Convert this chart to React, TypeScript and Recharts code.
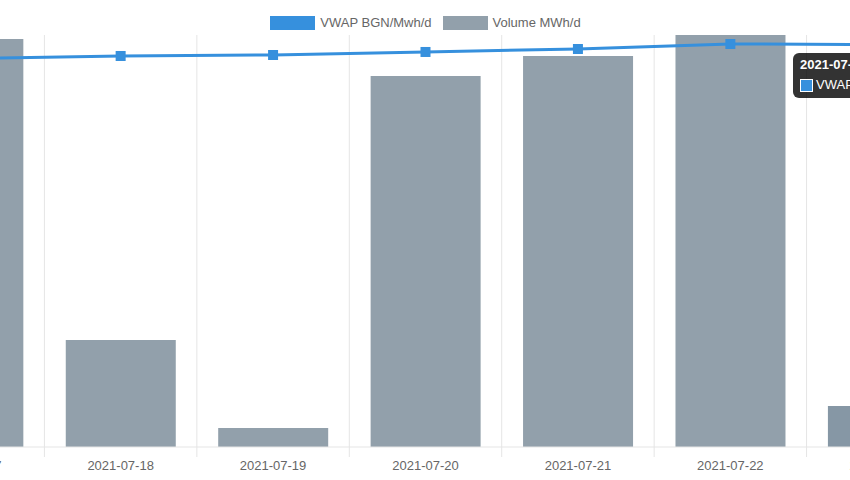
import React from 'react';
import {
  ComposedChart,
  Bar,
  Line,
  XAxis,
  YAxis,
  CartesianGrid,
  Tooltip,
  Legend,
  Cell,
} from 'recharts';

// ---- data ----
const DATES = ['2021-07-17', '2021-07-18', '2021-07-19', '2021-07-20', '2021-07-21', '2021-07-22', '2021-07-23'];
const VWAP = [70.72, 71.18, 71.36, 71.91, 72.45, 73.36, 73.27];
const VOLUME = [29700, 7790, 1383, 27015, 28471, 30000, 2985];
const VWAP_DOMAIN: [number, number] = [0, 75];
const VOLUME_DOMAIN: [number, number] = [0, 30000];
const ACTIVE_INDEX = 6;

const VWAP_NAME = 'VWAP BGN/Mwh/d';
const VOLUME_NAME = 'Volume MWh/d';

// ---- style ----
const FONT = '"Liberation Sans", Arial, Helvetica, sans-serif';
const BLUE = '#3690DD';
const GREY = '#92A0AB';
const GREY_ACTIVE = '#8697A5';
const GRID = '#e5e5e5';
const TEXT = '#666666';

const SERIES = [
  { name: VWAP_NAME, color: BLUE },
  { name: VOLUME_NAME, color: GREY },
];

const data = DATES.map((date, i) => ({ date, vwap: VWAP[i], volume: VOLUME[i] }));

const CHART_W = 1067;
const CHART_H = 480;
const CHART_LEFT = -108;
const CAT_W = CHART_W / DATES.length;

const XTick = (props: any) => {
  const { x, y, payload } = props;
  const bx = x - CAT_W / 2;
  return (
    <g>
      <line x1={bx} x2={bx} y1={y - 10} y2={y} stroke={GRID} strokeWidth={1} />
      <text x={x} y={y + 13} textAnchor="middle" fill={TEXT} fontSize={13} fontFamily={FONT}>
        {payload.value}
      </text>
    </g>
  );
};

const SquareDot = (props: any) => {
  const { cx, cy, index } = props;
  if (cx == null || cy == null) return <g key={`d${index}`} />;
  return <rect key={`d${index}`} x={cx - 5} y={cy - 5} width={10} height={10} fill={BLUE} />;
};

const LegendBox = () => (
  <div
    style={{
      display: 'flex',
      justifyContent: 'center',
      gap: 11,
      paddingTop: 5,
      height: 30,
      boxSizing: 'border-box',
      fontFamily: FONT,
    }}
  >
    {SERIES.map((s) => (
      <div key={s.name} style={{ display: 'flex', alignItems: 'center' }}>
        <span style={{ display: 'inline-block', width: 45, height: 14, background: s.color, marginRight: 5 }} />
        <span style={{ fontSize: 13, color: TEXT, lineHeight: '14px', whiteSpace: 'nowrap' }}>{s.name}</span>
      </div>
    ))}
  </div>
);

const TooltipBox = ({ active, payload, label }: any) => {
  if (!active || !payload || !payload.length) return null;
  const item = payload.find((p: any) => p.dataKey === 'vwap') || payload[0];
  return (
    <div
      style={{
        background: 'rgba(0,0,0,0.8)',
        borderRadius: 6,
        padding: '5px 8px 6px 7px',
        color: '#fff',
        fontFamily: FONT,
        fontSize: 13,
        whiteSpace: 'nowrap',
      }}
    >
      <div style={{ fontWeight: 'bold', lineHeight: '14px', marginBottom: 6 }}>{label}</div>
      <div style={{ display: 'flex', alignItems: 'center', lineHeight: '14px' }}>
        <span
          style={{
            display: 'inline-block',
            width: 11,
            height: 11,
            background: BLUE,
            border: '1px solid #fff',
            marginRight: 3,
          }}
        />
        {`${item.name}: ${item.value}`}
      </div>
    </div>
  );
};

export default function App() {
  return (
    <div
      style={{
        position: 'fixed',
        left: 0,
        top: 0,
        width: 850,
        height: 480,
        overflow: 'hidden',
        background: '#ffffff',
      }}
    >
      <div style={{ position: 'absolute', left: CHART_LEFT, top: 0, width: CHART_W, height: CHART_H }}>
        <ComposedChart
          width={CHART_W}
          height={CHART_H}
          data={data}
          margin={{ top: 5, right: 0, bottom: 0, left: 0 }}
          barCategoryGap="14%"
        >
          <CartesianGrid
            horizontal={false}
            vertical={true}
            stroke={GRID}
            verticalCoordinatesGenerator={({ offset }: any) =>
              Array.from({ length: DATES.length + 1 }, (_, i) => offset.left + (i * offset.width) / DATES.length)
            }
          />
          <Legend verticalAlign="top" content={<LegendBox />} />
          <XAxis
            dataKey="date"
            interval={0}
            height={33}
            tickLine={false}
            tickSize={10}
            tickMargin={0}
            axisLine={{ stroke: GRID }}
            tick={<XTick />}
          />
          <YAxis yAxisId="vol" hide domain={VOLUME_DOMAIN} />
          <YAxis yAxisId="vwap" hide orientation="right" domain={VWAP_DOMAIN} />
          <Bar yAxisId="vol" dataKey="volume" name={VOLUME_NAME} fill={GREY} isAnimationActive={false}>
            {data.map((_, i) => (
              <Cell key={`c${i}`} fill={i === ACTIVE_INDEX ? GREY_ACTIVE : GREY} />
            ))}
          </Bar>
          <Line
            yAxisId="vwap"
            type="linear"
            dataKey="vwap"
            name={VWAP_NAME}
            stroke={BLUE}
            strokeWidth={3}
            dot={<SquareDot />}
            activeDot={false}
            isAnimationActive={false}
          />
          <Tooltip
            content={<TooltipBox />}
            cursor={false}
            defaultIndex={ACTIVE_INDEX}
            position={{ x: 901, y: 53 }}
            allowEscapeViewBox={{ x: true, y: true }}
            isAnimationActive={false}
          />
        </ComposedChart>
      </div>
    </div>
  );
}
